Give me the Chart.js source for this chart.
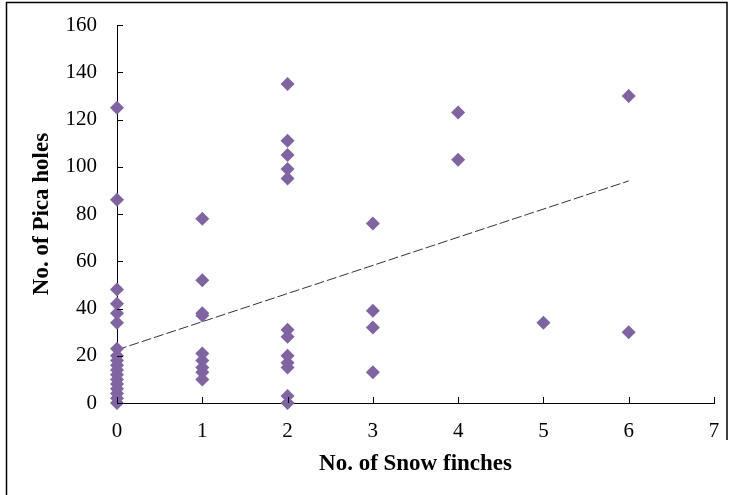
<!DOCTYPE html>
<html>
<head>
<meta charset="utf-8">
<script src="https://cdn.jsdelivr.net/npm/chart.js@4"></script>
<style>
html,body{margin:0;padding:0;background:#fff;}
#wrap{width:730px;height:495px;position:relative;}
</style>
</head>
<body>
<div id="wrap"><canvas id="c" width="730" height="495"></canvas></div>
<script>
// Data
const finches = [0,0,0,0,0,0,0,0,0,0,0,0,0,0,0,0,0,0,
                 1,1,1,1,1,1,1,1,1,
                 2,2,2,2,2,2,2,2,2,2,2,2,
                 3,3,3,3,
                 4,4,
                 5,
                 6,6];
const holes = [125,86,48,42,38,34,23,20,18,16,14,12,10,8,6,4,2,0,
               78,52,38,37,21,18,15,13,10,
               135,111,105,99,95,31,28,20,17,15,3,0,
               76,39,32,13,
               123,103,
               34,
               130,30];
const trendX = [0, 6];
const trendY = [22.5, 94];
const xTicks = [0,1,2,3,4,5,6,7];
const yTicks = [0,20,40,60,80,100,120,140,160];
const xTitle = 'No. of Snow finches';
const yTitle = 'No. of Pica holes';

const points = finches.map((f, i) => ({x: f, y: holes[i]}));
const trend = trendX.map((x, i) => ({x: x, y: trendY[i]}));

const FONT = 'Liberation Serif';

const decor = {
  id: 'decor',
  afterDatasetsDraw(chart) {
    const ctx = chart.ctx;
    const xs = chart.scales.x, ys = chart.scales.y;
    ctx.save();
    ctx.strokeStyle = '#000';
    ctx.lineWidth = 1;
    ctx.beginPath();
    yTicks.forEach(v => {
      const py = Math.round(ys.getPixelForValue(v)) + 0.5;
      ctx.moveTo(xs.left, py);
      ctx.lineTo(xs.left + 6, py);
    });
    xTicks.forEach(v => {
      const px = Math.round(xs.getPixelForValue(v)) + 0.5;
      ctx.moveTo(px, ys.bottom);
      ctx.lineTo(px, ys.bottom - 6);
    });
    ctx.stroke();
    ctx.lineWidth = 1.5;
    ctx.beginPath();
    ctx.moveTo(6.5, 495);
    ctx.lineTo(6.5, 2.5);
    ctx.lineTo(727, 2.5);
    ctx.lineTo(727, 440);
    ctx.stroke();
    ctx.restore();
  }
};

new Chart(document.getElementById('c'), {
  type: 'scatter',
  data: {
    datasets: [
      {
        label: 'trend',
        type: 'line',
        data: trend,
        borderColor: '#333',
        borderWidth: 1,
        borderDash: [10, 3],
        pointRadius: 0,
        fill: false,
        clip: false,
        order: 2
      },
      {
        label: 'holes',
        data: points,
        pointStyle: 'rectRot',
        pointRadius: 7,
        pointHoverRadius: 7,
        backgroundColor: '#8064A2',
        borderColor: '#8064A2',
        borderWidth: 0,
        clip: false,
        order: 1
      }
    ]
  },
  options: {
    responsive: false,
    animation: false,
    events: [],
    layout: { padding: { top: 25, right: 16, left: 0, bottom: 0 } },
    plugins: { legend: { display: false }, tooltip: { enabled: false } },
    scales: {
      x: {
        type: 'linear',
        min: 0, max: 7,
        afterBuildTicks(s) { s.ticks = xTicks.map(v => ({value: v})); },
        afterFit(s) { s.height = 92; s.paddingLeft = 0; s.paddingRight = 0; },
        grid: { display: false, drawTicks: false },
        border: { display: true, color: '#000', width: 1 },
        ticks: { color: '#000', padding: 16, font: { family: FONT, size: 21 } },
        title: { display: true, text: xTitle, color: '#000', padding: { top: 0, bottom: 19 },
                 font: { family: FONT, size: 23, weight: 'bold', lineHeight: 1.0 } }
      },
      y: {
        type: 'linear',
        min: 0, max: 160,
        afterBuildTicks(s) { s.ticks = yTicks.map(v => ({value: v})); },
        afterFit(s) { s.width = 117; s.paddingTop = 0; s.paddingBottom = 0; },
        grid: { display: false, drawTicks: false },
        border: { display: true, color: '#000', width: 1 },
        ticks: { color: '#000', padding: 20, font: { family: FONT, size: 21 } },
        title: { display: true, text: yTitle, color: '#000', padding: { top: 31, bottom: 0 },
                 font: { family: FONT, size: 23, weight: 'bold', lineHeight: 1.0 } }
      }
    }
  },
  plugins: [decor]
});
</script>
</body>
</html>
